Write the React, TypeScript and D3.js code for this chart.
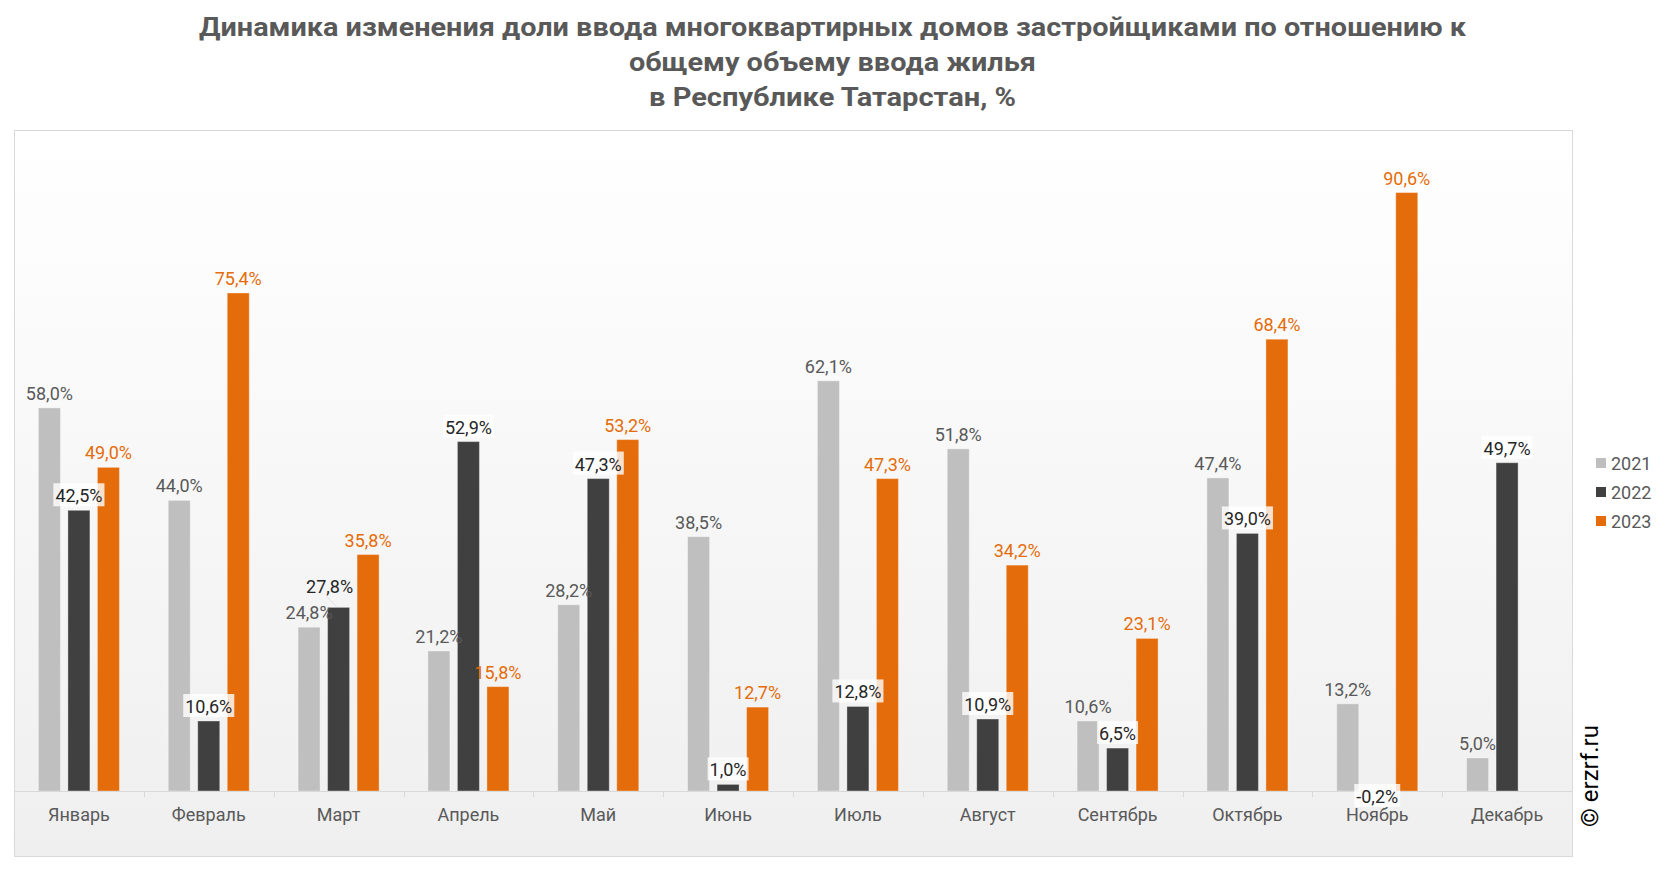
import React, { useEffect, useRef } from "react";
import * as d3 from "d3";

const months = ["Январь", "Февраль", "Март", "Апрель", "Май", "Июнь", "Июль", "Август", "Сентябрь", "Октябрь", "Ноябрь", "Декабрь"];
const seriesNames = ["2021", "2022", "2023"];
const values2021: (number | null)[] = [58.0, 44.0, 24.8, 21.2, 28.2, 38.5, 62.1, 51.8, 10.6, 47.4, 13.2, 5.0];
const values2022: (number | null)[] = [42.5, 10.6, 27.8, 52.9, 47.3, 1.0, 12.8, 10.9, 6.5, 39.0, -0.2, 49.7];
const values2023: (number | null)[] = [49.0, 75.4, 35.8, 15.8, 53.2, 12.7, 47.3, 34.2, 23.1, 68.4, 90.6, null];
const titleLines = [
  "Динамика изменения доли ввода многоквартирных домов застройщиками по отношению к",
  "общему объему ввода жилья",
  "в Республике Татарстан, %",
];

const W = 1666;
const H = 872;
const barColors = ["#BFBFBF", "#404040", "#E46C0A"];
const labelColors = ["#595959", "#262626", "#E46C0A"];

export default function App() {
  const ref = useRef<SVGSVGElement>(null);
  useEffect(() => {
    const svg = d3.select(ref.current);
    svg.selectAll("*").remove();
    const font = "Roboto, 'Noto Sans', sans-serif";

    const defs = svg.append("defs");
    const grad = defs.append("linearGradient").attr("id", "bg").attr("x1", 0).attr("y1", 0).attr("x2", 0).attr("y2", 1);
    grad.append("stop").attr("offset", "0%").attr("stop-color", "#ffffff");
    grad.append("stop").attr("offset", "100%").attr("stop-color", "#efefef");

    svg.append("rect").attr("width", W).attr("height", H).attr("fill", "#ffffff");

    // title
    const titleWidths = [1267, 407, 367];
    const titleY = [36, 71, 106];
    titleLines.forEach((t, i) => {
      svg.append("text")
        .attr("x", W / 2 - 0.5)
        .attr("y", titleY[i])
        .attr("text-anchor", "middle")
        .attr("font-family", font)
        .attr("font-weight", 700)
        .attr("font-size", 25)
        .attr("fill", "#595959")
        .attr("textLength", titleWidths[i])
        .attr("lengthAdjust", "spacingAndGlyphs")
        .text(t);
    });

    const left = 14, right = 1572, top = 130, bottom = 856;
    svg.append("rect")
      .attr("x", left + 0.5).attr("y", top + 0.5)
      .attr("width", right - left).attr("height", bottom - top)
      .attr("fill", "url(#bg)").attr("stroke", "#d9d9d9").attr("stroke-width", 1);

    const x0 = d3.scaleBand<string>().domain(months).range([left, right]).paddingInner(0.376).paddingOuter(0.188);
    const x1 = d3.scaleBand<string>().domain(seriesNames).range([0, x0.bandwidth()]).paddingInner(0.254);
    const y = d3.scaleLinear().domain([0, 100]).range([791, 130.5]);

    const allSeries = [values2021, values2022, values2023];

    // bars
    allSeries.forEach((vals, si) => {
      vals.forEach((v, mi) => {
        if (v === null) return;
        const bx = (x0(months[mi]) as number) + (x1(seriesNames[si]) as number);
        const y0 = y(0), yv = y(v);
        svg.append("rect")
          .attr("x", bx).attr("y", Math.min(y0, yv))
          .attr("width", x1.bandwidth()).attr("height", Math.max(Math.abs(y0 - yv), 0.8))
          .attr("fill", barColors[si])
          .attr("stroke", "rgba(255,255,255,0.35)").attr("stroke-width", 1);
      });
    });

    // axis
    const axisY = y(0);
    svg.append("line").attr("x1", left).attr("x2", right + 1).attr("y1", axisY + 0.5).attr("y2", axisY + 0.5)
      .attr("stroke", "#d9d9d9").attr("stroke-width", 1.2);
    const step = x0.step();
    for (let i = 0; i <= months.length; i++) {
      const tx = Math.round(left + i * step) + 0.5;
      svg.append("line").attr("x1", tx).attr("x2", tx).attr("y1", axisY).attr("y2", axisY + 6)
        .attr("stroke", "#d9d9d9").attr("stroke-width", 1);
    }
    months.forEach((m) => {
      svg.append("text")
        .attr("x", (x0(m) as number) + x0.bandwidth() / 2)
        .attr("y", 821)
        .attr("text-anchor", "middle")
        .attr("font-family", font)
        .attr("font-size", 18)
        .attr("fill", "#595959")
        .text(m);
    });

    // labels
    const labelsG = svg.append("g");
    allSeries.forEach((vals, si) => {
      vals.forEach((v, mi) => {
        if (v === null) return;
        const cx0 = (x0(months[mi]) as number) + (x1(seriesNames[si]) as number) + x1.bandwidth() / 2;
        const moved = si === 1 && mi === 2; // label dragged up-left in the original, with a leader line
        const cx = moved ? cx0 - 9 : cx0;
        const by = v >= 0 ? y(v) - (moved ? 14 : 8) : y(0) + 12;
        const g = labelsG.append("g");
        if (moved) {
          g.append("line").attr("x1", cx0 - 12).attr("y1", by + 3).attr("x2", cx0 - 2).attr("y2", y(v) - 1)
            .attr("stroke", "#d9d9d9").attr("stroke-width", 0.8);
        }
        const txt = g.append("text")
          .attr("x", cx).attr("y", by)
          .attr("text-anchor", "middle")
          .attr("font-family", font)
          .attr("font-size", 18)
          .attr("fill", labelColors[si])
          .text(v.toFixed(1).replace(".", ",") + "%");
        if (si === 1 && !moved) {
          const bb = (txt.node() as SVGTextElement).getBBox();
          g.insert("rect", "text")
            .attr("x", bb.x - 2).attr("y", by - 19)
            .attr("width", bb.width + 4).attr("height", 23)
            .attr("fill", "#ffffff").attr("opacity", 0.8);
        }
      });
    });

    // legend
    const legendY = [463, 492, 521];
    seriesNames.forEach((s, i) => {
      svg.append("rect").attr("x", 1596).attr("y", legendY[i] - 5).attr("width", 10).attr("height", 10).attr("fill", barColors[i]);
      svg.append("text").attr("x", 1611).attr("y", legendY[i] + 6.5)
        .attr("font-family", font).attr("font-size", 18).attr("fill", "#595959").text(s);
    });

    // copyright
    svg.append("text")
      .attr("transform", "translate(1598,776) rotate(-90)")
      .attr("text-anchor", "middle")
      .attr("font-family", font)
      .attr("font-size", 24)
      .attr("fill", "#000000")
      .text("© erzrf.ru");
  }, []);

  return <svg ref={ref} width={W} height={H} style={{ position: "absolute", left: 0, top: 0 }} />;
}
